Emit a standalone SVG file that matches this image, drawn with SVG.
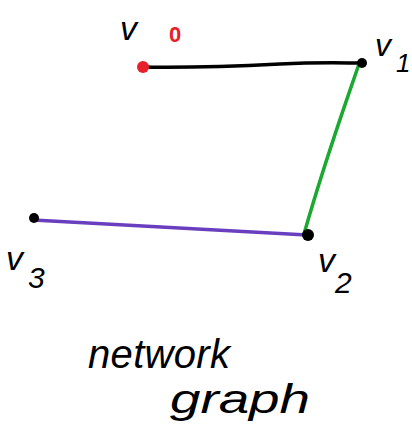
<svg xmlns="http://www.w3.org/2000/svg" width="412" height="437" viewBox="0 0 412 437">
<style>
.lbl{font-family:"Liberation Sans",Arial,sans-serif;font-style:italic;fill:#000}
.sub{font-family:"Liberation Sans",Arial,sans-serif}
.edge{fill:none;stroke-width:3.5;stroke-linecap:round;stroke-linejoin:round}
</style>
<rect width="412" height="437" fill="#fff"/>
<g id="connectors">
<path class="edge" stroke="#000" d="M142,67 C200,68 240,66 280,64 C320,62 345,63 361,63"/>
<path class="edge" stroke="#1aa830" d="M359,64 C345,105 325,160 304,234"/>
<path class="edge" stroke="#6a3fbf" d="M33,220 C100,224 200,230 307,235"/>
</g>
<g id="v0">
<circle cx="143" cy="67" r="6" fill="#e8202a"/>
<text class="lbl" x="120" y="40" font-size="34">v</text>
<text class="sub" x="169" y="42" font-size="22" fill="#e8202a" font-weight="bold">0</text>
</g>
<g id="v1">
<circle cx="362" cy="63" r="5" fill="#000"/>
<text class="lbl" x="375" y="56" font-size="32">v</text>
<text class="lbl" x="396" y="72" font-size="26">1</text>
</g>
<g id="v2">
<circle cx="308" cy="235" r="6" fill="#000"/>
<text class="lbl" x="318" y="272" font-size="34">v</text>
<text class="lbl" x="335" y="293" font-size="30">2</text>
</g>
<g id="v3">
<circle cx="34" cy="218" r="5" fill="#000"/>
<text class="lbl" x="6" y="270" font-size="34">v</text>
<text class="lbl" x="28" y="288" font-size="30">3</text>
</g>
<g id="caption">
<text class="lbl" x="88" y="368" font-size="40" textLength="142">network</text>
<text class="lbl" x="170" y="413" font-size="40" textLength="140" lengthAdjust="spacingAndGlyphs">graph</text>
</g>
</svg>
